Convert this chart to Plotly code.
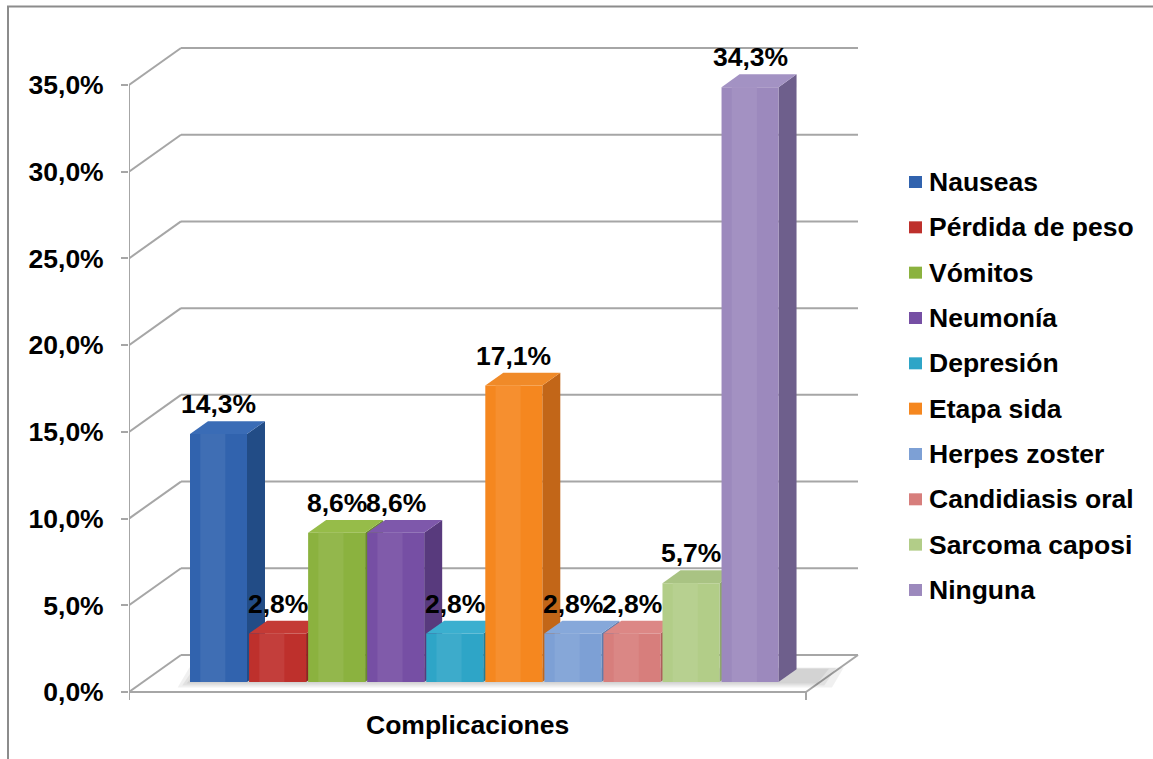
import plotly.graph_objects as go

# ---- data -------------------------------------------------------------
categories = ["Nauseas", "Pérdida de peso", "Vómitos", "Neumonía", "Depresión",
              "Etapa sida", "Herpes zoster", "Candidiasis oral", "Sarcoma caposi", "Ninguna"]
percent = [14.3, 2.8, 8.6, 8.6, 2.8, 17.1, 2.8, 2.8, 5.7, 34.3]
value_labels = ["14,3%", "2,8%", "8,6%", "8,6%", "2,8%", "17,1%", "2,8%", "2,8%", "5,7%", "34,3%"]
tick_values = [0, 5, 10, 15, 20, 25, 30, 35]
tick_labels = ["0,0%", "5,0%", "10,0%", "15,0%", "20,0%", "25,0%", "30,0%", "35,0%"]
axis_title = "Complicaciones"

# ---- styling ------------------------------------------------------------
front_colors = ["#3163AE", "#BE302C", "#8BB23F", "#764FA4", "#2EA5C7",
                "#F5871F", "#7DA0D5", "#D77E7C", "#B2CD88", "#9C89BD"]
side_colors = ["#224C86", "#8E2320", "#6A8A2C", "#583A7D", "#217D98",
               "#C26618", "#5E7DAE", "#AE5E5C", "#8EA76A", "#6E5F8C"]
top_colors = ["#3A6CB6", "#C43A35", "#96BC49", "#7E58AB", "#3BAFCF",
              "#F08A28", "#86A8DA", "#DC8785", "#A9C383", "#A392C3"]

FONT = "Liberation Sans, Arial, sans-serif"
FONT_SIZE = 26.5
GRID = "#A6A6A6"

W, H = 1153, 759
LEFT = 129                     # plot area starts at the front value axis
PX_X = 59.06                   # pixels per category step
PX_Y = 17.343                  # pixels per percentage point
CAT0_PX = 218.5                # pixel column of the first category centre
ZERO_PX = 692                  # pixel row of 0 % on the front plane

x_range = [(LEFT - CAT0_PX) / PX_X, (W - CAT0_PX) / PX_X]
y_range = [-(H - ZERO_PX) / PX_Y, ZERO_PX / PX_Y]

# 3-D depth of the walls / floor and of each bar
WALL_DX, WALL_DY = 52 / PX_X, 37 / PX_Y
FLOOR_RIGHT = (806 - CAT0_PX) / PX_X
BAR_W = 57 / PX_X
BAR_BASE = 10 / PX_Y
BAR_DX, BAR_DY = 18 / PX_X, 12.8 / PX_Y


def mix(hex_color, other, t):
    a = [int(hex_color[i:i + 2], 16) for i in (1, 3, 5)]
    b = [int(other[i:i + 2], 16) for i in (1, 3, 5)]
    return "#" + "".join(f"{round(p + (q - p) * t):02X}" for p, q in zip(a, b))


def face(xs, ys, color):
    return go.Scatter(x=xs + [xs[0]], y=ys + [ys[0]], mode="lines", fill="toself",
                      fillcolor=color, line=dict(width=0, color=color),
                      hoverinfo="skip", showlegend=False)


def label_font():
    return dict(family=FONT, size=FONT_SIZE, color="black", weight="bold")


fig = go.Figure()

xl = x_range[0]
hw = BAR_W / 2
n = len(percent)

# soft floor shadow under the row of bars (a few stacked translucent layers)
for grow in (0.35, 0.22, 0.1):
    sx0 = -hw - grow * 0.6
    sx1 = (n - 1) + hw + BAR_DX + 0.25 + grow
    sy0 = BAR_BASE - grow * 0.9
    sy1 = BAR_BASE + BAR_DY + grow * 0.3
    fig.add_trace(face([sx0, sx1, sx1 + 0.2, sx0 + 0.2], [sy0, sy0, sy1, sy1],
                       "rgba(0,0,0,0.06)"))

for i, v in enumerate(percent):
    x0, x1 = i - hw, i + hw
    y0, y1 = BAR_BASE, BAR_BASE + v
    # right side face
    fig.add_trace(face([x1, x1 + BAR_DX, x1 + BAR_DX, x1],
                       [y0, y0 + BAR_DY, y1 + BAR_DY, y1], side_colors[i]))
    # top face
    fig.add_trace(face([x0, x0 + BAR_DX, x1 + BAR_DX, x1],
                       [y1, y1 + BAR_DY, y1 + BAR_DY, y1], top_colors[i]))
    # front face with a soft vertical highlight
    fig.add_trace(face([x0, x1, x1, x0], [y0, y0, y1, y1], front_colors[i]))
    hx0, hx1 = x0 + BAR_W * 0.18, x0 + BAR_W * 0.62
    fig.add_trace(face([hx0, hx1, hx1, hx0], [y0, y0, y1, y1],
                       mix(front_colors[i], "#FFFFFF", 0.07)))

# value labels above each bar
annotations = []
for i, (v, lab) in enumerate(zip(percent, value_labels)):
    annotations.append(dict(x=i, y=BAR_BASE + v + BAR_DY, text=lab, showarrow=False,
                            xanchor="center", yanchor="bottom", font=label_font()))

# axis title under the floor
annotations.append(dict(x=(xl + FLOOR_RIGHT) / 2, y=-33 / PX_Y, text=axis_title,
                        showarrow=False, xanchor="center", yanchor="middle",
                        font=label_font()))


def px_to_paper_x(px):
    return (px - LEFT) / (W - LEFT)


def px_to_paper_y(py):
    return 1 - py / H


shapes = []
# back wall gridlines and side wall diagonals
for t in tick_values:
    shapes.append(dict(type="line", xref="x", yref="y", layer="below",
                       x0=xl + WALL_DX, y0=t + WALL_DY, x1=FLOOR_RIGHT + WALL_DX, y1=t + WALL_DY,
                       line=dict(color=GRID, width=2)))
    shapes.append(dict(type="line", xref="x", yref="y", layer="below",
                       x0=xl, y0=t, x1=xl + WALL_DX, y1=t + WALL_DY,
                       line=dict(color=GRID, width=2)))
# front value axis, floor front edge and floor right edge
shapes.append(dict(type="line", xref="x", yref="y", layer="below",
                   x0=xl, y0=0, x1=xl, y1=tick_values[-1], line=dict(color=GRID, width=2)))
shapes.append(dict(type="line", xref="x", yref="y", layer="below",
                   x0=xl, y0=0, x1=FLOOR_RIGHT, y1=0, line=dict(color=GRID, width=2)))
shapes.append(dict(type="line", xref="x", yref="y", layer="below",
                   x0=FLOOR_RIGHT, y0=0, x1=FLOOR_RIGHT + WALL_DX, y1=WALL_DY,
                   line=dict(color=GRID, width=2)))
# category axis end ticks
for xx in (xl, FLOOR_RIGHT):
    shapes.append(dict(type="line", xref="x", yref="y", layer="below",
                       x0=xx, y0=0, x1=xx, y1=-8 / PX_Y, line=dict(color=GRID, width=2)))

# chart area border
shapes.append(dict(type="rect", xref="paper", yref="paper",
                   x0=px_to_paper_x(8), y0=px_to_paper_y(H + 10),
                   x1=px_to_paper_x(W + 10), y1=px_to_paper_y(6.5),
                   line=dict(color="#8C8C8C", width=2), fillcolor="rgba(0,0,0,0)"))

# legend: coloured squares with category names
for k, name in enumerate(categories):
    cy = 182 + k * 45.33
    shapes.append(dict(type="rect", xref="paper", yref="paper",
                       x0=px_to_paper_x(909), x1=px_to_paper_x(922),
                       y0=px_to_paper_y(cy + 6), y1=px_to_paper_y(cy - 6),
                       fillcolor=front_colors[k], line=dict(width=0)))
    annotations.append(dict(x=px_to_paper_x(927), y=px_to_paper_y(cy), xref="paper", yref="paper",
                            text=name, showarrow=False, xanchor="left", yanchor="middle",
                            font=label_font()))

fig.update_layout(
    width=W, height=H,
    margin=dict(l=LEFT, r=0, t=0, b=0),
    paper_bgcolor="white", plot_bgcolor="white",
    showlegend=False,
    xaxis=dict(range=x_range, visible=False, fixedrange=True),
    yaxis=dict(range=y_range, tickvals=tick_values, ticktext=tick_labels,
               ticks="outside", ticklen=7, tickwidth=2, tickcolor=GRID,
               ticklabelstandoff=12, showgrid=False, zeroline=False, showline=False,
               tickfont=label_font(), fixedrange=True),
    shapes=shapes,
    annotations=annotations,
)

fig.write_html("out.html")
